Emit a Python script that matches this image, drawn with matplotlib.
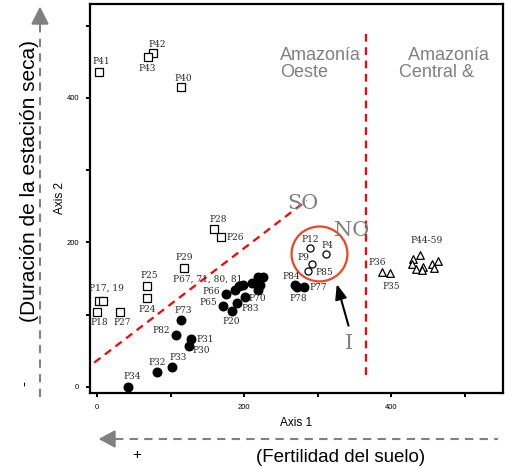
import numpy as np
import matplotlib
matplotlib.use("Agg")
import matplotlib.pyplot as plt
from matplotlib.patches import Ellipse, Polygon
from matplotlib.lines import Line2D

# ---- data ----
square_names = ["P41", "P42", "P43", "P40", "P28", "P26", "P29", "P25", "P24",
                "P17, 19", "", "P18", "P27"]
square_x = [2.7, 76.6, 69.4, 114, 159.6, 168, 118, 68.4, 68.4, 3.1, 7.8, 0.4, 31.7]
square_y = [436, 462, 456, 415, 218.7, 207, 165, 140, 122.7, 119.4, 119.4, 104, 104]

filled_names = ["P34", "P32", "P33", "P30", "P31", "P82", "P73", "P20", "P65", "P83",
                "P66", "P70", "", "", "", "", "P67, 71, 80, 81", "", "", "",
                "P84", "P78", "P77"]
filled_x = [41.8, 81, 101.6, 125, 128, 108, 114, 183, 171, 191,
            175, 201, 187.8, 193.6, 199, 210.5, 219.5, 226.3, 221.8, 219.5,
            269.4, 271.7, 282]
filled_y = [0, 20, 27, 56, 66, 72, 93, 105.6, 112.5, 115.8,
            128.7, 125, 134, 139, 141, 143.5, 152.7, 152.7, 141, 134,
            141, 138, 138]

open_names = ["P12", "P4", "P9", "P85"]
open_x = [289, 311.6, 292, 287.5]
open_y = [192, 184.5, 170, 161]

tri_names = ["P36", "P35", "P44-59", "", "", "", "", "", "", "", ""]
tri_x = [387.8, 397.7, 439.5, 430, 428.6, 433.6, 443, 441.6, 455.4, 457.6, 463]
tri_y = [159, 157, 182, 176.6, 170, 163, 165.6, 162, 170, 164, 174]

# label offsets (pixels) and alignment
LABEL_OFFSETS = {
    "P41": (2, 10, "center"), "P42": (4, 9, "center"), "P43": (-1, -11, "center"),
    "P40": (2, 9, "center"), "P28": (4, 9, "center"), "P26": (6, 0, "left"),
    "P29": (0, 10, "center"), "P25": (2, 10, "center"), "P24": (0, -11, "center"),
    "P17, 19": (7, 12, "center"), "P18": (2, -11, "center"), "P27": (2, -11, "center"),
    "P34": (4, 10, "center"), "P32": (1, 10, "center"), "P33": (6, 10, "center"),
    "P30": (4, -4, "left"), "P31": (5, 0, "left"), "P82": (-6, 4, "right"),
    "P73": (2, 9, "center"), "P20": (0, -11, "center"), "P65": (-6, 3, "right"),
    "P83": (4, -5, "left"), "P66": (-6, 2, "right"), "P70": (4, -2, "left"),
    "P67, 71, 80, 81": (-51, -3, "center"),
    "P84": (-4, 9, "center"), "P78": (1, -11, "center"), "P77": (5, 0, "left"),
    "P12": (1, 9, "center"), "P4": (1, 8, "center"), "P9": (-8, 7, "center"),
    "P85": (7, -2, "left"),
    "P36": (-5, 10, "center"), "P35": (2, -13, "center"), "P44-59": (6, 15, "center"),
}

W, H = 505, 466


def fx(px):
    return px / W


def fy(py):
    return 1 - py / H


def label_points(ax, names, xs, ys):
    for name, x, y in zip(names, xs, ys):
        if not name:
            continue
        dx, dy, ha = LABEL_OFFSETS[name]
        ax.annotate(name, (x, y), xytext=(dx, dy), textcoords="offset pixels",
                    ha=ha, va="center", fontsize=6.5, family="DejaVu Serif",
                    color="#2a2a2a")


def main():
    fig = plt.figure(figsize=(W / 100, H / 100), dpi=100)
    ax = fig.add_axes([fx(90), fy(393), fx(503) - fx(90), fy(4) - fy(393)])
    ax.set_xlim(-9.5, 552)
    ax.set_ylim(-8.5, 530)

    ax.scatter(square_x, square_y, marker="s", s=30, facecolors="white",
               edgecolors="black", linewidths=0.9, zorder=3)
    ax.scatter(filled_x, filled_y, marker="o", s=38, color="black", zorder=3)
    ax.scatter(open_x, open_y, marker="o", s=26, facecolors="white",
               edgecolors="black", linewidths=0.9, zorder=3)
    ax.scatter(tri_x, tri_y, marker="^", s=30, facecolors="white",
               edgecolors="black", linewidths=0.9, zorder=3)

    label_points(ax, square_names, square_x, square_y)
    label_points(ax, filled_names, filled_x, filled_y)
    label_points(ax, open_names, open_x, open_y)
    label_points(ax, tri_names, tri_x, tri_y)

    # dividing lines
    ax.plot([-3.7, 285], [33.6, 258], color="red", lw=1.6, ls=(0, (3.5, 2.5)), zorder=2)
    ax.plot([366, 366], [16.6, 491], color="red", lw=1.6, ls=(0, (3.5, 2.5)), zorder=2)

    ax.add_patch(Ellipse((302.5, 184), 76, 76, fill=False, edgecolor="#ee4422", lw=1.6))
    ax.annotate("", xy=(325, 146), xytext=(343, 81),
                arrowprops=dict(arrowstyle="-|>,head_length=0.9,head_width=0.35",
                                color="black", lw=1.5))

    gray = "#808080"
    ax.text(280, 254, "SO", fontsize=15, family="DejaVu Serif", color=gray,
            ha="center", va="center")
    ax.text(346.5, 217, "NO", fontsize=15, family="DejaVu Serif", color=gray,
            ha="center", va="center")
    ax.text(342, 60, "I", fontsize=15, family="DejaVu Serif", color=gray,
            ha="center", va="center")
    ax.text(249, 447, "Amazonía\nOeste", fontsize=13, family="Liberation Sans",
            color=gray, ha="left", va="center", linespacing=1.0)
    ax.text(410, 447, "  Amazonía\nCentral &", fontsize=13, family="Liberation Sans",
            color=gray, ha="left", va="center", linespacing=1.0)

    # axes styling
    for s in ax.spines.values():
        s.set_linewidth(1.6)
    ax.set_xticks([0, 200, 400])
    ax.set_xticks([100, 300, 500], minor=True)
    ax.set_yticks([0, 200, 400])
    ax.set_yticks([100, 300, 500], minor=True)
    ax.tick_params(which="both", direction="out", length=3, width=1.4, labelsize=5.5,
                   pad=5)
    for t in ax.get_xticklabels() + ax.get_yticklabels():
        t.set_family("Liberation Sans")
    ax.set_xlabel("Axis 1", fontsize=8.5, family="Liberation Sans", va="center")
    ax.set_ylabel("Axis 2", fontsize=8.5, family="Liberation Sans", va="center")
    ax.xaxis.set_label_coords(0.5, (393 - 423) / 389)
    ax.yaxis.set_label_coords((60 - 90) / 413, 0.5)

    # outer gradient arrows
    fig.add_artist(Line2D([fx(40), fx(40)], [fy(397), fy(24)], color=gray, lw=1.5,
                          ls=(0, (4, 3))))
    fig.add_artist(Polygon([[fx(32), fy(24)], [fx(48), fy(24)], [fx(40), fy(8)]],
                           closed=True, color=gray))
    fig.add_artist(Line2D([fx(115), fx(498)], [fy(439), fy(439)], color=gray, lw=1.5,
                          ls=(0, (4, 3))))
    fig.add_artist(Polygon([[fx(115), fy(431)], [fx(115), fy(447)], [fx(100), fy(439)]],
                           closed=True, color=gray))
    fig.text(fx(30), fy(181), "(Duración de la estación seca)", rotation=90,
             fontsize=15, family="Liberation Sans", ha="center", va="center")
    fig.text(fx(24), fy(384), "-", rotation=90, fontsize=11, family="Liberation Sans",
             ha="center", va="center")
    fig.text(fx(341), fy(457), "(Fertilidad del suelo)", fontsize=13.5,
             family="Liberation Sans", ha="center", va="center")
    fig.text(fx(137), fy(455), "+", fontsize=11, family="Liberation Sans",
             ha="center", va="center")

    fig.savefig("out.png", dpi=100)


if __name__ == "__main__":
    main()
